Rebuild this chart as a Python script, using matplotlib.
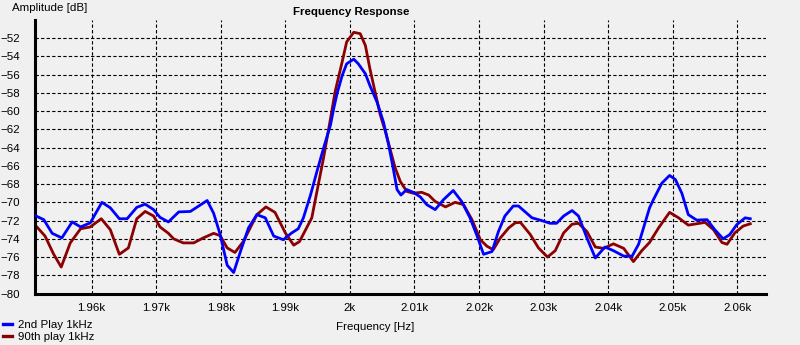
import matplotlib
matplotlib.use("Agg")
import matplotlib.pyplot as plt
from matplotlib.ticker import FuncFormatter, MultipleLocator

plt.rcParams['font.family'] = ['Liberation Sans', 'DejaVu Sans']

# Spectrum around the 1 kHz tone (frequency in Hz, amplitude in dB)
freq_2nd = [1951.4, 1952.6, 1953.9, 1955.4, 1957.0, 1958.3, 1959.8, 1961.6, 1962.9, 1964.3,
            1965.5, 1967.0, 1968.3, 1969.6, 1970.6, 1971.9, 1973.5, 1975.3, 1976.6, 1977.9,
            1978.9, 1979.9, 1981.0, 1982.0, 1983.0, 1984.3, 1985.6, 1986.9, 1988.2, 1989.7,
            1991.0, 1992.0, 1992.8, 1993.9, 1994.9, 1995.9, 1997.0, 1997.5, 1998.0, 1998.8,
            1999.5, 2000.6, 2001.3, 2002.4, 2003.1, 2004.2, 2005.2, 2006.0, 2006.7, 2007.3,
            2007.9, 2008.8, 2009.8, 2010.9, 2011.9, 2013.2, 2014.5, 2016.0, 2017.3, 2018.6,
            2019.7, 2020.7, 2022.0, 2023.0, 2024.0, 2025.3, 2026.1, 2028.2, 2029.7, 2031.0,
            2032.0, 2033.1, 2034.4, 2035.4, 2036.7, 2038.0, 2039.5, 2040.8, 2042.4, 2043.7,
            2044.7, 2045.7, 2046.4, 2047.0, 2048.3, 2049.5, 2050.4, 2051.4, 2052.4, 2053.7,
            2055.3, 2056.5, 2057.8, 2058.8, 2059.9, 2061.2, 2062.0]
amp_2nd = [-71.5, -71.9, -73.4, -73.9, -72.15, -72.7, -72.25, -70.0, -70.6, -71.8,
           -71.8, -70.55, -70.2, -70.8, -71.65, -72.15, -71.05, -71.0, -70.4, -69.8,
           -71.2, -73.5, -76.9, -77.7, -75.5, -72.8, -71.35, -71.7, -73.7, -74.1,
           -73.35, -72.9, -71.7, -69.2, -66.6, -64.1, -61.5, -59.7, -58.1, -56.1,
           -54.8, -54.3, -54.8, -55.9, -57.2, -59.0, -61.2, -63.7, -66.25, -68.6,
           -69.2, -68.6, -68.9, -69.4, -70.25, -70.8, -69.7, -68.7, -69.9, -71.7,
           -73.7, -75.7, -75.4, -73.2, -71.5, -70.4, -70.4, -71.7, -72.0, -72.3,
           -72.3, -71.5, -70.9, -71.5, -73.9, -76.1, -74.9, -75.3, -75.9, -75.9,
           -74.6, -72.25, -70.6, -69.7, -67.9, -67.05, -67.5, -69.0, -71.35, -71.95,
           -71.9, -73.0, -74.0, -73.55, -72.45, -71.7, -71.8]

freq_90th = [1951.4, 1952.8, 1954.1, 1955.3, 1956.7, 1958.3, 1959.8, 1961.5, 1962.9, 1964.3,
             1965.7, 1967.0, 1968.3, 1969.6, 1970.6, 1971.9, 1972.7, 1974.2, 1975.8, 1977.3,
             1978.9, 1979.9, 1981.0, 1982.2, 1983.5, 1985.6, 1987.0, 1988.4, 1990.0, 1991.3,
             1992.2, 1994.1, 1994.9, 1995.9, 1997.0, 1997.7, 1998.8, 1999.5, 2000.6, 2001.6,
             2002.4, 2003.1, 2003.9, 2004.7, 2005.5, 2006.2, 2007.0, 2007.8, 2008.8, 2009.8,
             2011.1, 2012.2, 2013.2, 2014.8, 2016.3, 2017.6, 2018.9, 2020.2, 2021.2, 2022.2,
             2023.3, 2024.6, 2025.6, 2026.4, 2027.9, 2029.2, 2030.6, 2031.8, 2033.1, 2034.4,
             2035.4, 2036.7, 2038.0, 2039.3, 2040.8, 2042.4, 2043.9, 2045.2, 2046.4, 2047.8,
             2049.5, 2050.9, 2052.4, 2053.7, 2055.0, 2056.3, 2057.6, 2058.4, 2059.6, 2060.9,
             2062.0]
amp_90th = [-72.6, -73.7, -75.65, -77.1, -74.45, -72.9, -72.7, -71.8, -73.0, -75.7,
            -75.0, -71.8, -71.0, -71.5, -72.7, -73.4, -74.0, -74.45, -74.45, -73.9,
            -73.4, -73.65, -75.0, -75.5, -74.3, -71.35, -70.5, -71.1, -73.35, -74.7,
            -74.3, -71.7, -68.8, -65.2, -60.8, -57.9, -54.6, -52.4, -51.35, -51.5,
            -52.8, -55.35, -57.9, -60.4, -62.25, -64.1, -66.2, -67.7, -68.8, -69.0,
            -68.9, -69.2, -69.9, -70.5, -70.0, -70.25, -71.9, -74.1, -74.8, -75.2,
            -73.9, -72.8, -72.25, -72.2, -73.5, -75.0, -76.0, -75.3, -73.35, -72.4,
            -72.3, -73.2, -74.9, -75.05, -74.55, -75.05, -76.5, -75.3, -74.4, -72.8,
            -71.1, -71.7, -72.5, -72.35, -72.2, -73.0, -74.4, -74.6, -73.35, -72.6,
            -72.35]

bg = '#f0f0f0'
fig = plt.figure(figsize=(8, 3.45), dpi=100, facecolor=bg)
ax = fig.add_axes([35 / 800, 1 - 293.5 / 345, (765.8 - 35) / 800, (293.5 - 20) / 345])
ax.set_facecolor(bg)

l1, = ax.plot(freq_2nd, amp_2nd, color='#0000ff', lw=2.0, zorder=3)
l2, = ax.plot(freq_90th, amp_90th, color='#8b0000', lw=2.0, zorder=2)

ax.set_xlim(1951.24, 2064.4)
ax.set_ylim(-80, -50)
ax.xaxis.set_major_locator(MultipleLocator(10))
ax.xaxis.set_major_formatter(FuncFormatter(lambda v, p: f"{v / 1000:g}k"))
ax.set_yticks(range(-80, -51, 2))

ax.grid(True, color='black', linestyle=(0, (3, 2)), linewidth=0.8)
for s in ['top', 'right']:
    ax.spines[s].set_visible(False)
for s in ['left', 'bottom']:
    ax.spines[s].set_linewidth(2.2)
ax.tick_params(axis='both', length=0, labelsize=8.25)
ax.tick_params(axis='y', pad=11)
ax.tick_params(axis='x', pad=7)

fig.text(351 / 800, 1 - 12 / 345, 'Frequency Response', ha='center', va='center',
         fontsize=8.25, fontweight='bold')
fig.text(12 / 800, 1 - 8 / 345, 'Amplitude [dB]', ha='left', va='center', fontsize=8.25)
fig.text(375 / 800, 1 - 327 / 345, 'Frequency [Hz]', ha='center', va='center', fontsize=8.25)

leg = fig.legend([l1, l2], ['2nd Play 1kHz', '90th play 1kHz'], loc='lower left',
                 bbox_to_anchor=(0.0, 0.0), frameon=False, fontsize=8.25,
                 handlelength=0.75, handletextpad=0.5, labelspacing=0.15,
                 borderaxespad=0.1, borderpad=0.2)
for h in leg.legend_handles:
    h.set_linewidth(2.4)

fig.savefig('out.png', dpi=100, facecolor=bg)
